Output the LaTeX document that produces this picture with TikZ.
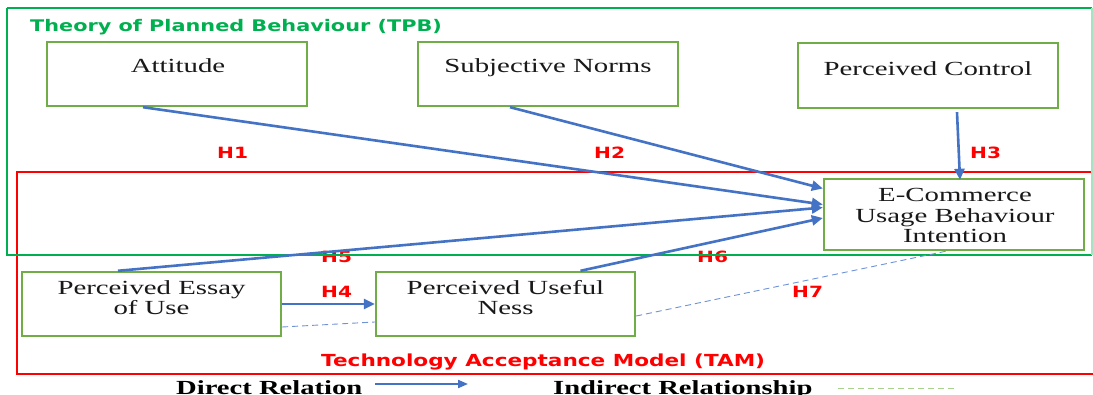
\documentclass[tikz,border=0pt]{standalone}
\usepackage{fontspec}
\usetikzlibrary{arrows.meta}
\newfontfamily\boxfont[FakeStretch=1.44]{Liberation Serif}
\newfontfamily\boxfontbf[FakeStretch=1.43]{Liberation Serif Bold}
\newfontfamily\labfont[FakeStretch=1.3]{DejaVu Sans Bold}
\definecolor{frameGreen}{HTML}{00B050}
\definecolor{boxGreen}{HTML}{70AD47}
\definecolor{arrowBlue}{HTML}{4472C4}
\definecolor{dashBlue}{HTML}{6F93D6}
\definecolor{legendGreen}{HTML}{A9D18E}
\definecolor{hypRed}{HTML}{FF0000}
\tikzset{
  conbox/.style={draw=boxGreen, line width=2.4pt, fill=white, inner sep=0pt},
  boxtext/.style={font=\boxfont\fontsize{20}{21}\selectfont, anchor=base, inner sep=0pt, text=black!90},
  hyp/.style={font=\labfont\fontsize{15.5}{16}\selectfont, text=hypRed, anchor=base west, inner sep=0pt},
  direct/.style={draw=arrowBlue, line width=2.6pt, -{Triangle[length=11pt,width=10pt]}},
  indirect/.style={draw=dashBlue, line width=0.9pt, dash pattern=on 6pt off 4pt},
}
\begin{document}
\begin{tikzpicture}[x=1pt,y=-1pt]
\useasboundingbox[fill=white] (0,0) rectangle (1093,395);

% hypothesis labels partly hidden under the TPB frame
\node[hyp] (h5) at (321,263) {H5};
\node[hyp] (h6) at (697,263) {H6};

% model frames
\draw[hypRed, line width=1.8pt] (17,172) rectangle (1100,374);
\draw[frameGreen, line width=2.2pt] (7,8) -- (1092,8);
\draw[frameGreen, line width=2.2pt] (7,8) -- (7,255) -- (1092,255);
\draw[frameGreen!35, line width=2pt] (1092,8) -- (1092,255);

\node[font=\labfont\fontsize{16}{17}\selectfont, text=frameGreen, anchor=base west, inner sep=0pt] (tpb) at (30,32) {Theory of Planned Behaviour (TPB)};
\node[font=\labfont\fontsize{16.6}{17}\selectfont, text=hypRed, anchor=base west, inner sep=0pt] (tam) at (321,367) {Technology Acceptance Model (TAM)};

% construct boxes
\node[conbox, minimum width=260pt, minimum height=64pt] (att) at (177,74) {};
\node[conbox, minimum width=260pt, minimum height=64pt] (sn) at (548,74) {};
\node[conbox, minimum width=260pt, minimum height=65pt] (pc) at (928,75.5) {};
\node[conbox, minimum width=260pt, minimum height=71pt] (ec) at (954,214.5) {};
\node[conbox, minimum width=259pt, minimum height=64pt] (peu) at (151.5,304) {};
\node[conbox, minimum width=259pt, minimum height=64pt] (pu) at (505.5,304) {};

% box captions
\node[boxtext] (attT) at (178,72.5) {Attitude};
\node[boxtext] (snT) at (548,73) {Subjective Norms};
\node[boxtext] (pcT) at (928,76) {Perceived Control};
\node[boxtext] (ecT1) at (955,202) {E-Commerce};
\node[boxtext] (ecT2) at (955,222.5) {Usage Behaviour};
\node[boxtext] (ecT3) at (955,243) {Intention};
\node[boxtext] (peuT1) at (151.5,294.5) {Perceived Essay};
\node[boxtext] (peuT2) at (151.5,315) {of Use};
\node[boxtext] (puT1) at (505.5,294.5) {Perceived Useful};
\node[boxtext] (puT2) at (505.5,315) {Ness};

% indirect relations
\draw[indirect] ([yshift=-23pt]peu.east) -- ([yshift=-18pt]pu.west);
\draw[indirect] ([yshift=-12pt]pu.east) -- ([xshift=-8pt]ec.south);

% direct relations
\draw[direct] ([xshift=-34pt]att.south) -- ([yshift=10pt]ec.west);
\draw[direct] ([xshift=-38pt]sn.south) -- ([yshift=26pt]ec.west);
\draw[direct] ([xshift=29pt,yshift=-3pt]pc.south) -- ([xshift=6pt,yshift=-2pt]ec.north);
\draw[direct] ([xshift=-33.5pt]peu.north) -- ([yshift=7pt]ec.west);
\draw[direct] (peu.east) -- (pu.west);
\draw[direct] ([xshift=75pt]pu.north) -- ([yshift=-3.5pt]ec.west);

% remaining hypothesis labels
\node[hyp] (h1) at (217,158.5) {H1};
\node[hyp] (h2) at (594,158.5) {H2};
\node[hyp] (h3) at (970,158.5) {H3};
\node[hyp] (h4) at (321,298) {H4};
\node[hyp] (h7) at (792,298) {H7};

% legend
\node[font=\boxfontbf\fontsize{20}{21}\selectfont, anchor=base west, inner sep=0pt] (dirT) at (176,394.5) {Direct Relation};
\coordinate (dirA) at (375,384);
\coordinate (dirB) at (468,384);
\draw[draw=arrowBlue, line width=2pt, -{Triangle[length=10pt,width=8pt]}] (dirA) -- (dirB);
\node[font=\boxfontbf\fontsize{20}{21}\selectfont, anchor=base west, inner sep=0pt] (indT) at (553,394.5) {Indirect Relationship};
\coordinate (indA) at (838,389);
\coordinate (indB) at (957,389);
\draw[draw=legendGreen, line width=1pt, dash pattern=on 6pt off 4pt] (indA) -- (indB);
\end{tikzpicture}
\end{document}
